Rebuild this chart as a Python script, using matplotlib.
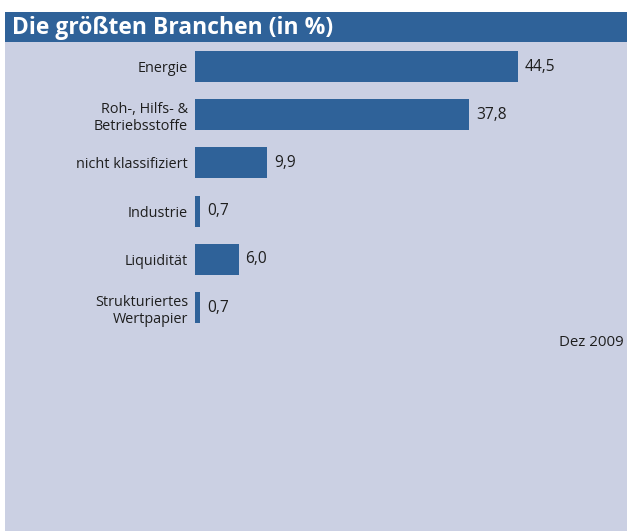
import matplotlib
matplotlib.use('Agg')
import matplotlib.pyplot as plt
from matplotlib.patches import Rectangle

# data
categories = ['Energie', 'Roh-, Hilfs- &\nBetriebsstoffe', 'nicht klassifiziert',
              'Industrie', 'Liquidität', 'Strukturiertes\nWertpapier']
values = [44.5, 37.8, 9.9, 0.7, 6.0, 0.7]
title = 'Die größten Branchen (in %)'
date_note = 'Dez 2009'

W, H = 627, 531
blue = '#2f6299'
panel = '#cbd0e3'
txt = '#1e1e1e'

plt.rcParams['font.family'] = ['Open Sans', 'DejaVu Sans']

fig = plt.figure(figsize=(W / 100, H / 100), dpi=100)
fig.patch.set_facecolor('white')

# background panel and title bar (pixel coords -> figure fraction)
fig.patches.append(Rectangle((5 / W, 0), (W - 5) / W, (H - 12) / H,
                             transform=fig.transFigure, facecolor=panel, edgecolor='none', zorder=0))
fig.patches.append(Rectangle((5 / W, 1 - 42 / H), (W - 5) / W, 30 / H,
                             transform=fig.transFigure, facecolor=blue, edgecolor='none', zorder=1))
fig.text(12 / W, 1 - 27.5 / H, title, color='white', fontsize=16.5, fontweight='bold',
         va='center', ha='left')

# bar axes
ax = fig.add_axes([195 / W, 1 - 331.6 / H, 428 / W, 289.2 / H])
ax.set_zorder(3)
ax.set_facecolor('none')
y = range(len(categories))
bars = ax.barh(y, values, height=0.643, color=blue)
ax.set_xlim(0, 59)
ax.set_ylim(5.5, -0.5)
ax.set_yticks(list(y))
ax.set_yticklabels(categories, fontsize=10.4, color=txt)
ax.tick_params(axis='y', length=0, pad=5)
ax.set_xticks([])
for s in ax.spines.values():
    s.set_visible(False)

ax.bar_label(bars, labels=[f'{v:.1f}'.replace('.', ',') for v in values],
             padding=5, fontsize=11.2, color=txt)

fig.text(624 / W, 1 - 343 / H, date_note, fontsize=10.8, color=txt, ha='right', va='center')

fig.savefig('out.png', dpi=100)
